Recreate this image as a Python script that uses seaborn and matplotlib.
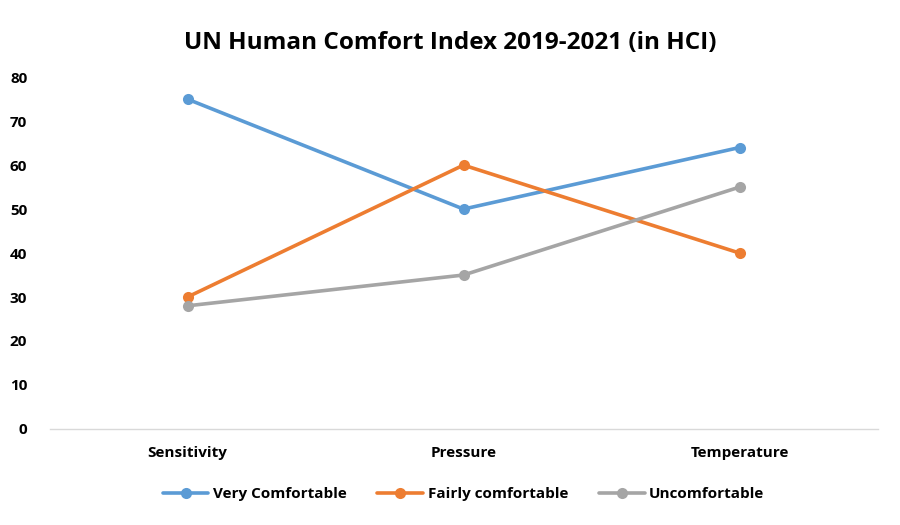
import matplotlib
matplotlib.use("Agg")
import matplotlib.pyplot as plt
import seaborn as sns
import pandas as pd

# chart values
categories = ["Sensitivity", "Pressure", "Temperature"]
very_comfortable = [75, 50, 64]
fairly_comfortable = [30, 60, 40]
uncomfortable = [28, 35, 55]
series_names = ["Very Comfortable", "Fairly comfortable", "Uncomfortable"]
y_ticks = [0, 10, 20, 30, 40, 50, 60, 70, 80]

sns.set_theme(style="white")
plt.rcParams["font.family"] = ["Open Sans", "DejaVu Sans"]
plt.rcParams["text.color"] = "black"

df = pd.DataFrame({
    "category": categories * 3,
    "value": very_comfortable + fairly_comfortable + uncomfortable,
    "series": [s for s in series_names for _ in categories],
})
df["x"] = df["category"].map({c: i for i, c in enumerate(categories)})

palette = {"Very Comfortable": "#5B9BD5",
           "Fairly comfortable": "#ED7D31",
           "Uncomfortable": "#A5A5A5"}

fig = plt.figure(figsize=(9, 5.25), dpi=100)
ax = fig.add_axes([0.055, 0.183, 0.92, 0.67])

sns.lineplot(data=df, x="x", y="value", hue="series", palette=palette,
             hue_order=series_names, marker="o", markersize=8,
             markeredgewidth=0, linewidth=2.6, ax=ax, legend=True)

ax.set_xlim(-0.5, 2.5)
ax.set_ylim(0, 80)
ax.set_xticks(range(len(categories)))
ax.set_xticklabels(categories, fontsize=11, fontweight="bold", color="black")
ax.set_yticks(y_ticks)
ax.set_yticklabels([str(t) for t in y_ticks], fontsize=11,
                   fontweight="bold", color="black")
ax.tick_params(axis="both", length=0)
ax.tick_params(axis="x", pad=12)
ax.tick_params(axis="y", pad=16)
ax.set_xlabel("")
ax.set_ylabel("")

for side in ["top", "right", "left"]:
    ax.spines[side].set_visible(False)
ax.spines["bottom"].set_color("#D9D9D9")
ax.spines["bottom"].set_linewidth(1)

for line in ax.lines:
    line.set_clip_on(False)

fig.suptitle("UN Human Comfort Index 2019-2021 (in HCI)", fontsize=17.5,
             fontweight="bold", color="black", y=0.94)

handles, labels = ax.get_legend_handles_labels()
ax.legend(handles, labels, loc="center", bbox_to_anchor=(0.5, -0.185),
          ncol=3, frameon=False, prop={"size": 11, "weight": "bold"},
          handlelength=3, columnspacing=2.0, handletextpad=0.3)

fig.savefig("out.png", dpi=100)
